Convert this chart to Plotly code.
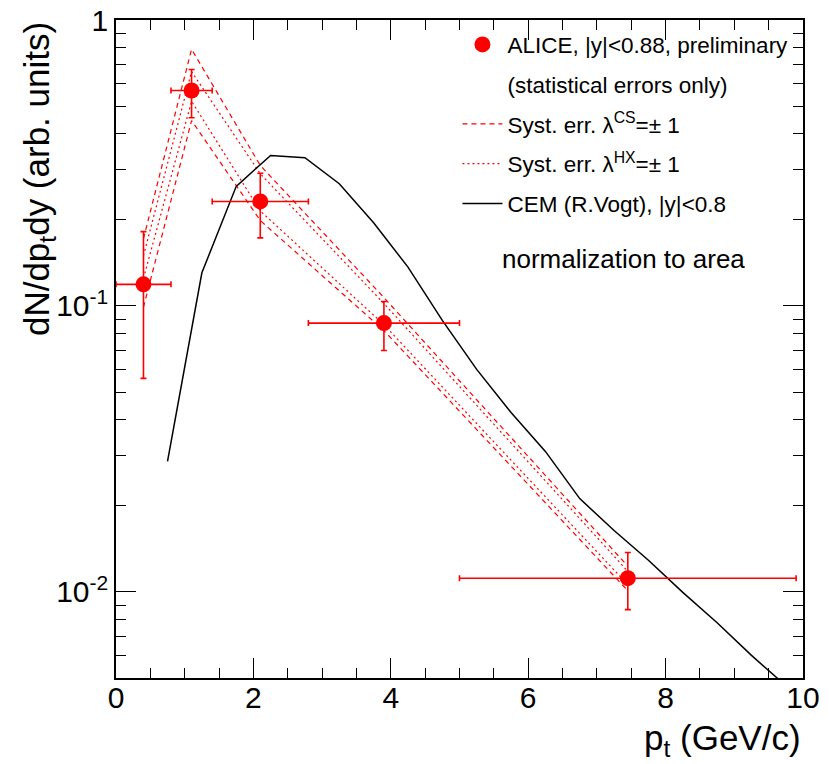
import numpy as np
import plotly.graph_objects as go

# ---------------- data ----------------
pt = [0.40, 1.10, 2.10, 3.90, 7.45]
pt_lo = [0.00, 0.80, 1.40, 2.80, 5.00]
pt_hi = [0.80, 1.40, 2.80, 5.00, 9.90]
yield_val = [0.119, 0.567, 0.232, 0.0871, 0.01117]
yield_hi = [0.182, 0.671, 0.291, 0.1037, 0.01374]
yield_lo = [0.0558, 0.455, 0.173, 0.0699, 0.00867]

syst_cs_a = [0.172, 0.79, 0.31, 0.107, 0.0123]
syst_cs_b = [0.099, 0.445, 0.199, 0.082, 0.0101]
syst_hx_a = [0.150, 0.66, 0.29, 0.102, 0.0118]
syst_hx_b = [0.125, 0.52, 0.215, 0.086, 0.0106]

cem_pt = [0.75, 1.25, 1.75, 2.25, 2.75, 3.25, 3.75, 4.25, 4.75, 5.25, 5.75,
          6.25, 6.75, 7.25, 7.75, 8.25, 8.75, 9.25, 9.75]
cem_y = [0.0286, 0.1306, 0.262, 0.336, 0.330, 0.2675, 0.1954, 0.1367, 0.089,
         0.060, 0.0424, 0.031, 0.0212, 0.0164, 0.0129, 0.00996, 0.0078,
         0.0060, 0.0047]

x_major = [0, 2, 4, 6, 8, 10]
x_minor = [0.5, 1, 1.5, 2.5, 3, 3.5, 4.5, 5, 5.5, 6.5, 7, 7.5, 8.5, 9, 9.5]
y_major = [0.01, 0.1, 1]
y_major_text = ["10<sup>-2</sup>", "10<sup>-1</sup>", "1"]
y_minor = [0.005, 0.006, 0.007, 0.008, 0.009,
           0.02, 0.03, 0.04, 0.05, 0.06, 0.07, 0.08, 0.09,
           0.2, 0.3, 0.4, 0.5, 0.6, 0.7, 0.8, 0.9]

RED = "#ff0000"
FONT = "Liberation Sans, Arial, Helvetica, sans-serif"

fig = go.Figure()

# systematic lines
for i, ys in enumerate([syst_cs_a, syst_cs_b]):
    fig.add_trace(go.Scatter(
        x=pt, y=ys, mode="lines",
        line=dict(color=RED, width=1.2, dash="5px,4px"),
        name="Syst. err. λ<sup>CS</sup>=± 1",
        legendgroup="cs", showlegend=(i == 0), legendrank=3))
for i, ys in enumerate([syst_hx_a, syst_hx_b]):
    fig.add_trace(go.Scatter(
        x=pt, y=ys, mode="lines",
        line=dict(color=RED, width=1.2, dash="2px,3px"),
        name="Syst. err. λ<sup>HX</sup>=± 1",
        legendgroup="hx", showlegend=(i == 0), legendrank=4))

# CEM
fig.add_trace(go.Scatter(
    x=cem_pt, y=cem_y, mode="lines",
    line=dict(color="black", width=1.5),
    name="CEM (R.Vogt), |y|<0.8", legendgroup="cem", legendrank=5))

# data
ex_p = [h - c for h, c in zip(pt_hi, pt)]
ex_m = [c - l for c, l in zip(pt, pt_lo)]
ey_p = [h - c for h, c in zip(yield_hi, yield_val)]
ey_m = [c - l for c, l in zip(yield_val, yield_lo)]
fig.add_trace(go.Scatter(
    x=pt, y=yield_val, mode="markers",
    marker=dict(color=RED, size=16),
    error_x=dict(type="data", array=ex_p, arrayminus=ex_m, color=RED,
                 thickness=1.6, width=3),
    error_y=dict(type="data", array=ey_p, arrayminus=ey_m, color=RED,
                 thickness=1.6, width=3),
    name="ALICE, |y|<0.88, preliminary", legendgroup="data", legendrank=1))
fig.add_trace(go.Scatter(
    x=[None], y=[None], mode="markers", marker=dict(opacity=0, color="white"),
    name="(statistical errors only)", legendgroup="stat", legendrank=2))

# invisible trace to bind the minor-tick axes
fig.add_trace(go.Scatter(x=[None], y=[None], xaxis="x2", yaxis="y2",
                         showlegend=False, hoverinfo="skip"))

axis_common = dict(showgrid=False, zeroline=False, showline=True,
                   linecolor="black", linewidth=1.5, ticks="inside",
                   tickcolor="black", mirror="ticks")

fig.update_layout(
    width=829, height=764,
    paper_bgcolor="white", plot_bgcolor="white",
    margin=dict(l=116, r=26, t=20, b=86, autoexpand=False),
    font=dict(family=FONT, color="black"),
    xaxis=dict(range=[0, 10], tickvals=x_major, ticklen=20, tickwidth=1.2,
               tickfont=dict(size=30), ticklabelstandoff=-8, **axis_common),
    yaxis=dict(type="log", range=[np.log10(0.005), 0], tickvals=y_major,
               ticktext=y_major_text, ticklen=20, tickwidth=1.2,
               tickfont=dict(size=30), **axis_common),
    xaxis2=dict(range=[0, 10], overlaying="x", tickvals=x_minor, ticklen=10,
                tickwidth=1.2, showticklabels=False, anchor="y2",
                **axis_common),
    yaxis2=dict(type="log", range=[np.log10(0.005), 0], overlaying="y",
                tickvals=y_minor, ticklen=10, tickwidth=1.2,
                showticklabels=False, anchor="x2", **axis_common),
    legend=dict(x=0.497, y=0.995, xanchor="left", yanchor="top",
                bgcolor="rgba(0,0,0,0)", borderwidth=0,
                font=dict(size=22.5, family=FONT), tracegroupgap=7.5,
                itemwidth=40),
    showlegend=True,
)

fig.add_annotation(text="normalization to area", xref="paper", yref="paper",
                   x=0.739, y=0.637, xanchor="center", yanchor="middle",
                   showarrow=False, font=dict(size=26, family=FONT))
fig.add_annotation(text="dN/dp<sub>t</sub>dy (arb. units)", xref="paper",
                   yref="paper", x=-0.112, y=1.0, xanchor="center",
                   yanchor="top", textangle=-90, showarrow=False,
                   font=dict(size=35, family=FONT))
fig.add_annotation(text="p<sub>t</sub> (GeV/c)", xref="paper", yref="paper",
                   x=1.0, y=-0.094, xanchor="right", yanchor="middle",
                   showarrow=False, font=dict(size=35, family=FONT))

fig.write_html("out.html")
